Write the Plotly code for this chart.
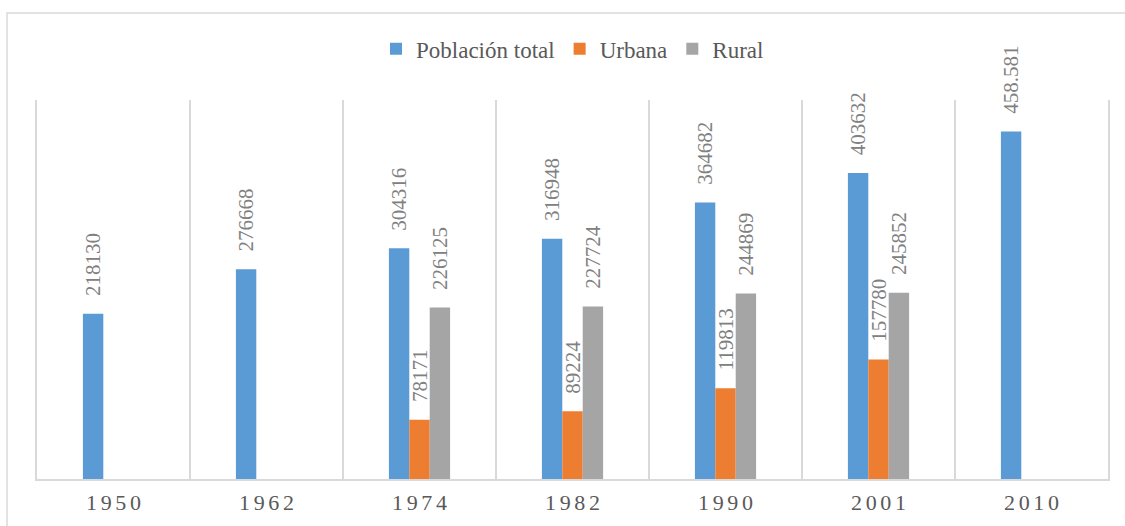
import plotly.graph_objects as go

years = ["1950", "1962", "1974", "1982", "1990", "2001", "2010"]
total = [218130, 276668, 304316, 316948, 364682, 403632, 458581]
total_labels = ["218130", "276668", "304316", "316948", "364682", "403632", "458.581"]
urbana = [None, None, 78171, 89224, 119813, 157780, None]
rural = [None, None, 226125, 227724, 244869, 245852, None]

PAD = "\u00a0\u00a0\u2009"

def lab(vals):
    return [(PAD + str(v)) if v is not None else "" for v in vals]

FONT = "Liberation Serif"
LABEL_COLOR = "#808080"
label_font = dict(family=FONT, size=21, color=LABEL_COLOR)

fig = go.Figure()
fig.add_trace(go.Bar(x=years, y=total, name="Población total", marker_color="#5B9BD5",
                     text=[PAD + t for t in total_labels]))
fig.add_trace(go.Bar(x=years, y=urbana, name="Urbana", marker_color="#ED7D31", text=lab(urbana)))
fig.add_trace(go.Bar(x=years, y=rural, name="Rural", marker_color="#A5A5A5", text=lab(rural)))

fig.update_traces(textposition="outside", textangle=-90, cliponaxis=False,
                  constraintext="none", marker_line_width=0,
                  textfont=label_font, outsidetextfont=label_font)

ticktext = ["\u2006".join(list(y)) for y in years]

fig.update_layout(
    width=1125, height=526,
    margin=dict(l=37, r=17, t=100, b=47, autoexpand=False),
    paper_bgcolor="white", plot_bgcolor="white",
    barmode="group", bargap=0.6, bargroupgap=0,
    font=dict(family=FONT, color="#595959"),
    showlegend=True,
    legend=dict(orientation="h", x=0.5, xanchor="center", y=1.135, yanchor="middle",
                font=dict(family=FONT, size=23, color="#595959"),
                traceorder="normal"),
    xaxis=dict(type="category", tickson="boundaries", showgrid=True, gridcolor="#D9D9D9",
               gridwidth=1.5, showline=True, linecolor="#D9D9D9", linewidth=1.5,
               ticks="", tickvals=years, ticktext=ticktext, ticklabelstandoff=3,
               automargin=False,
               tickfont=dict(family=FONT, size=22, color="#595959")),
    yaxis=dict(range=[0, 500000], showgrid=False, showticklabels=False, zeroline=False,
               automargin=False,
               showline=True, mirror=True, linecolor="#D9D9D9", linewidth=1.5),
    shapes=[dict(type="rect", xref="paper", yref="paper",
                 x0=-0.028, x1=1.03, y0=-0.2, y1=1.2296,
                 line=dict(color="#D9D9D9", width=1.5), fillcolor="rgba(0,0,0,0)",
                 layer="below")],
)

fig.write_html("out.html", config={"displayModeBar": False},
               post_script="document.body.style.margin='0';")
